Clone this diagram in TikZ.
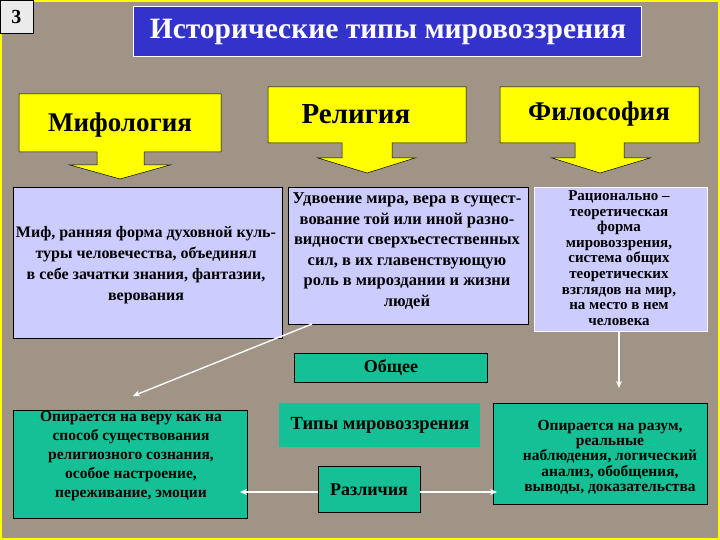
\documentclass[tikz,border=0pt]{standalone}
\usepackage{fontspec}
\setmainfont{Liberation Serif}
\usetikzlibrary{arrows.meta}
\definecolor{bgc}{RGB}{160,148,134}
\definecolor{lav}{RGB}{204,204,255}
\definecolor{grn}{RGB}{22,192,150}
\definecolor{ttl}{RGB}{51,51,204}
\definecolor{ylw}{RGB}{255,255,0}
\tikzset{
  box/.style={rectangle, inner sep=0pt, outer sep=0pt},
  lavbox/.style={box, fill=lav, draw=black, line width=0.8pt},
  grnbox/.style={box, fill=grn, draw=black, line width=0.8pt},
  callout/.style={fill=ylw, draw=black, line width=0.5pt},
  txt/.style={font=\bfseries, align=center, text=black, inner sep=0pt},
  warrow/.style={draw=white, line width=1.4pt, -{Stealth[length=7pt,width=6pt]}},
}
\begin{document}
\begin{tikzpicture}[x=1pt,y=-1pt]
\useasboundingbox (0,0) rectangle (720,540);
% background
\fill[bgc] (0,0) rectangle (720,540);
\draw[ylw, line width=2pt] (1,1) rectangle (719,539);

% number box
\node[box, fill=white!92!black, draw=black, line width=0.8pt, minimum width=33pt, minimum height=33pt] (num) at (16.5,16.5) {};
\node[txt, font=\bfseries\fontsize{20}{22}\selectfont] (numt) at (16.5,17) {3};

% title
\node[box, fill=ttl, draw=white, line width=1pt, minimum width=508pt, minimum height=50pt] (title) at (387,32) {};
\node[txt, text=white, font=\bfseries\fontsize{29.5}{31}\selectfont] (titlet) at (388,32) {Исторические типы мировоззрения};

% yellow callouts
\draw[callout] (19,94) -- (221,94) -- (221,152) -- (144,152) -- (144,165) -- (170,165) -- (120,179) -- (70,165) -- (97,165) -- (97,152) -- (19,152) -- cycle;
\node[txt, font=\bfseries\fontsize{27}{29}\selectfont] (mif) at (120,125) {Мифология};

\draw[callout] (268,87) -- (466,87) -- (466,143) -- (392,143) -- (392,158) -- (415,158) -- (367,173) -- (318,158) -- (342,158) -- (342,143) -- (268,143) -- cycle;
\node[txt, font=\bfseries\fontsize{29}{31}\selectfont] (rel) at (356,114) {Религия};

\draw[callout] (500,87) -- (699,87) -- (699,143) -- (624,143) -- (624,158) -- (650,158) -- (600,173) -- (552,158) -- (575,158) -- (575,143) -- (500,143) -- cycle;
\node[txt, font=\bfseries\fontsize{27}{29}\selectfont] (fil) at (599,114) {Философия};

% lavender boxes
\node[lavbox, minimum width=269pt, minimum height=151pt] (L1) at (147.5,262.5) {};
\node[txt, font=\bfseries\fontsize{16}{21}\selectfont] (L1t) at (146,265) {Миф, ранняя форма духовной куль-\\туры человечества, объединял\\в себе зачатки знания, фантазии,\\верования};

\node[lavbox, minimum width=240pt, minimum height=137pt] (L2) at (408,255.5) {};
\node[txt, font=\bfseries\fontsize{16.5}{20.5}\selectfont] (L2t) at (407,251) {Удвоение мира, вера в сущест-\\вование той или иной разно-\\видности сверхъестественных\\сил, в их главенствующую\\роль в мироздании и жизни\\людей};

\node[box, fill=lav, draw=white!85!lav, line width=0.8pt, minimum width=173pt, minimum height=144pt] (L3) at (620.5,259) {};
\node[txt, font=\bfseries\fontsize{15}{15.6}\selectfont] (L3t) at (619,258) {Рационально –\\теоретическая\\форма\\мировоззрения,\\система общих\\теоретических\\взглядов на мир,\\на место в нем\\человека};

% green boxes
\node[grnbox, minimum width=193pt, minimum height=29pt] (ob) at (390.5,367.5) {};
\node[txt, font=\bfseries\fontsize{18}{20}\selectfont] (obt) at (391,368) {Общее};

\node[box, fill=grn, minimum width=201pt, minimum height=44pt] (types) at (379.5,425) {};
\node[txt, font=\bfseries\fontsize{18.5}{20}\selectfont] (typest) at (380,425) {Типы мировоззрения};

\node[grnbox, minimum width=102pt, minimum height=46pt] (diff) at (369,489) {};
\node[txt, font=\bfseries\fontsize{18}{20}\selectfont] (difft) at (369,490) {Различия};

\node[grnbox, minimum width=234pt, minimum height=108pt] (G1) at (130,464) {};
\node[txt, font=\bfseries\fontsize{15.5}{19}\selectfont] (G1t) at (131,456) {Опирается на веру как на\\способ существования\\религиозного сознания,\\особое настроение,\\переживание, эмоции};

\node[grnbox, minimum width=214pt, minimum height=101pt] (G2) at (600,453.5) {};
\node[txt, font=\bfseries\fontsize{15.5}{15.3}\selectfont] (G2t) at (610,457) {Опирается на разум,\\реальные\\наблюдения, логический\\анализ, обобщения,\\выводы, доказательства};

% connectors
\coordinate (a1s) at (312,324);
\coordinate (a1e) at (133,396);
\coordinate (a2e) at (619,388);
\coordinate (a3s) at (318,492);
\coordinate (a3e) at (240,492);
\coordinate (a4s) at (420,492);
\coordinate (a4e) at (497,492);
\draw[warrow] (a1s) -- (a1e);
\draw[warrow] (L3.south -| a2e) -- (a2e);
\draw[warrow] (a3s) -- (a3e);
\draw[warrow] (a4s) -- (a4e);
\end{tikzpicture}
\end{document}
